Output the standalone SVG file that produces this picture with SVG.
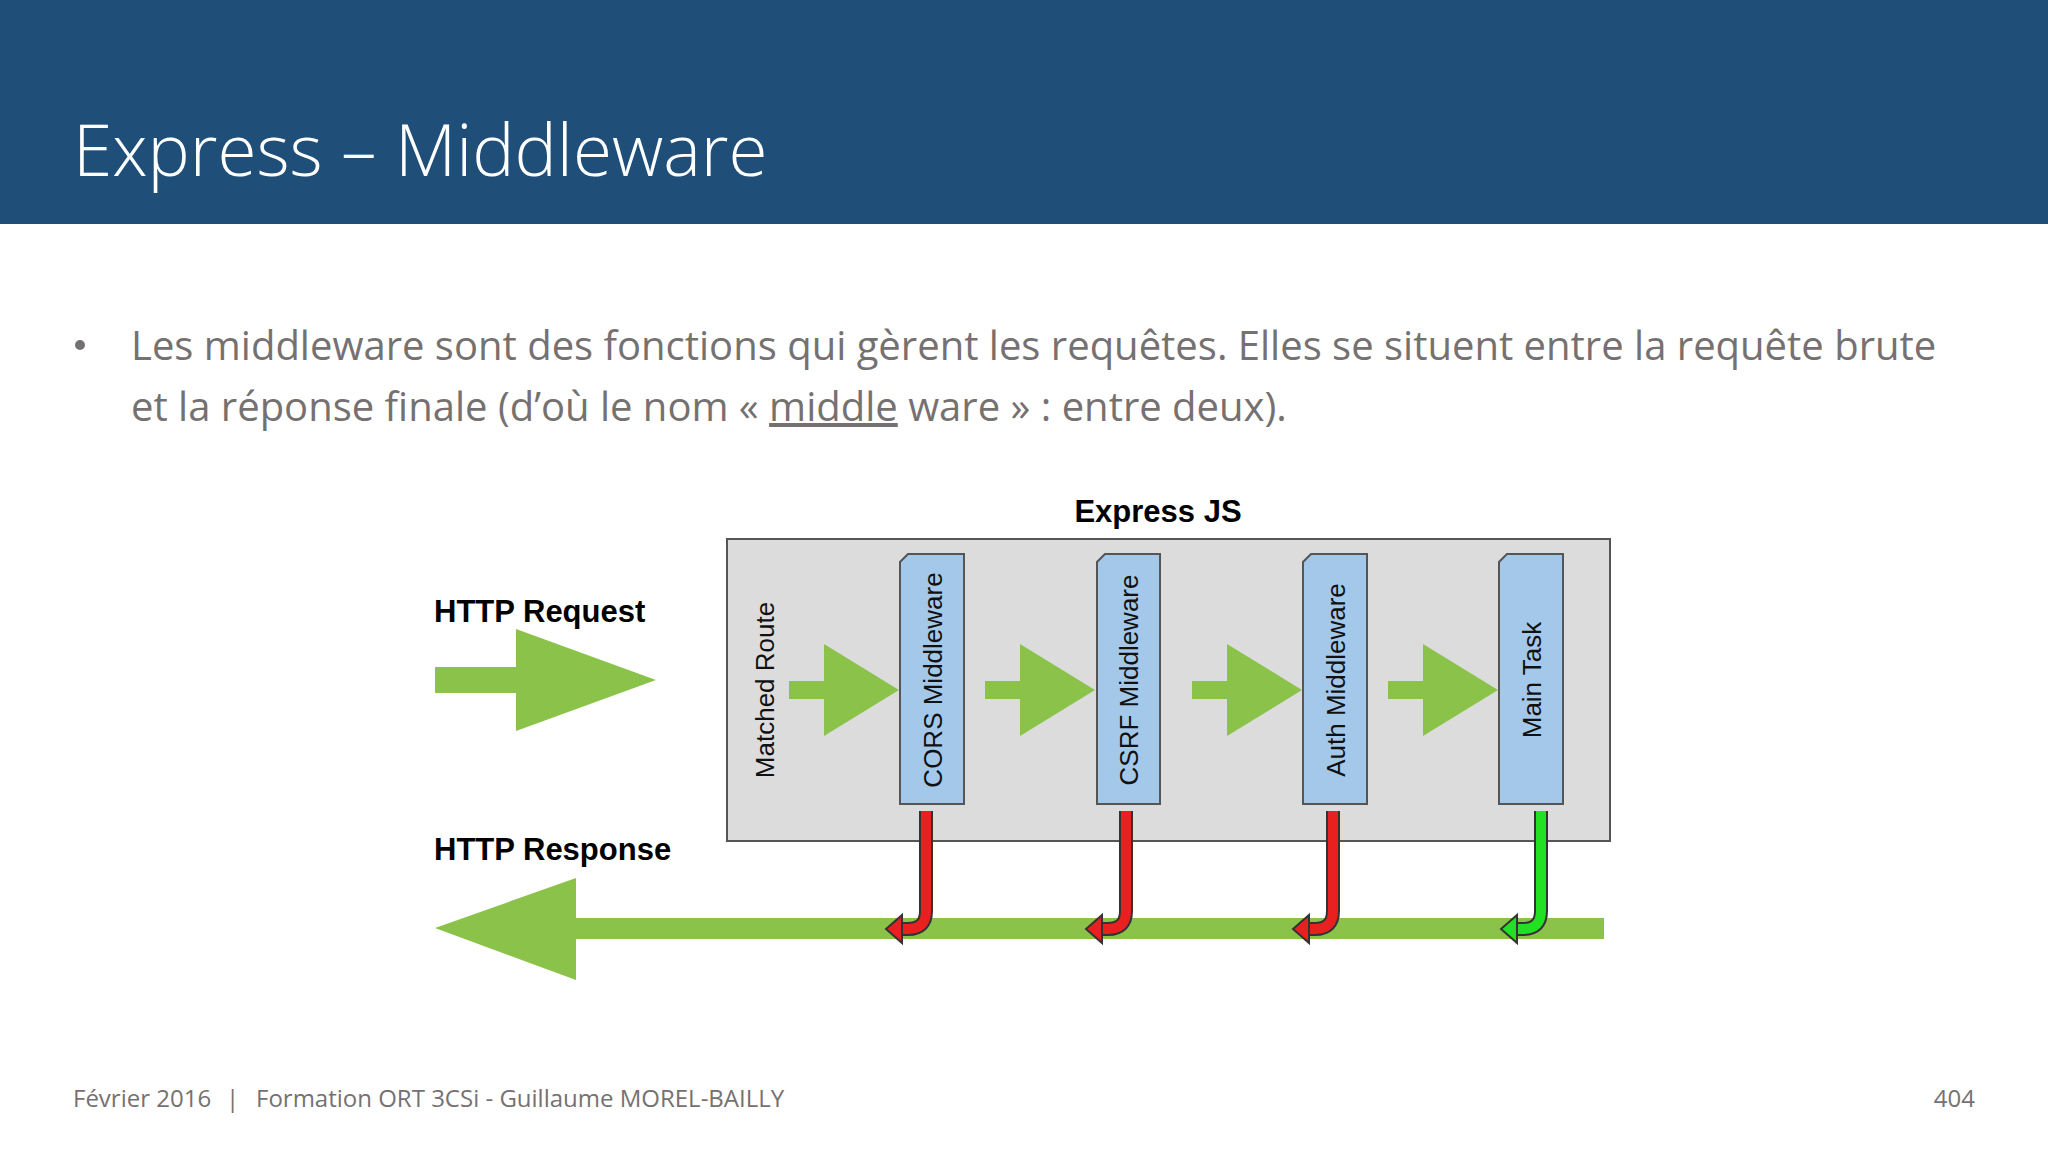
<svg xmlns="http://www.w3.org/2000/svg" width="2048" height="1152" viewBox="0 0 2048 1152">
<style>
.t{font-family:"Open Sans","Noto Sans",sans-serif}
.d{font-family:"Liberation Sans",Arial,sans-serif}
.blk{fill:#a4c8ea;stroke:#555;stroke-width:2}
.g{fill:#8bc34a}
.lbl{font-size:26px;fill:#111}
.ho{fill:none;stroke-linecap:butt;stroke-linejoin:round}
</style>
<defs>
<g id="hook">
<path class="ho" d="M0,0 V100 Q0,118 -18,118 H-26" stroke="#333" stroke-width="14"/>
<path class="ho" d="M0,0 V100 Q0,118 -18,118 H-26" stroke="currentColor" stroke-width="10"/>
<polygon points="-24,104 -40,118 -24,132" fill="currentColor" stroke="#333" stroke-width="2"/>
</g>
<polygon id="sa" points="0,-9 35,-9 35,-46 110,0 35,46 35,9 0,9"/>
</defs>
<rect x="0" y="0" width="2048" height="224" fill="#1f4e79"/>
<text class="t" x="73" y="176" font-size="71" font-weight="300" fill="#fff">Express – Middleware</text>
<circle cx="80" cy="345" r="5" fill="#767171"/>
<text class="t" font-size="40" fill="#767171"><tspan x="131" y="360">Les middleware sont des fonctions qui gèrent les requêtes. Elles se situent entre la requête brute</tspan><tspan x="131" y="421">et la réponse finale (d’où le nom « <tspan text-decoration="underline">middle</tspan> ware » : entre deux).</tspan></text>
<text class="d" x="1158" y="522" font-size="31" font-weight="bold" text-anchor="middle">Express JS</text>
<rect x="727" y="539" width="883" height="302" fill="#dcdcdc" stroke="#555" stroke-width="2"/>
<g id="matched"><text class="d lbl" transform="translate(774,690) rotate(-90)" text-anchor="middle">Matched Route</text></g>
<g id="cors"><path class="blk" d="M908,554 H964 V804 H900 V562 Z"/><text class="d lbl" transform="translate(942,680) rotate(-90)" text-anchor="middle">CORS Middleware</text></g>
<g id="csrf"><path class="blk" d="M1105,554 H1160 V804 H1097 V562 Z"/><text class="d lbl" transform="translate(1138,680) rotate(-90)" text-anchor="middle">CSRF Middleware</text></g>
<g id="auth"><path class="blk" d="M1311,554 H1367 V804 H1303 V562 Z"/><text class="d lbl" transform="translate(1345,680) rotate(-90)" text-anchor="middle">Auth Middleware</text></g>
<g id="main"><path class="blk" d="M1507,554 H1563 V804 H1499 V562 Z"/><text class="d lbl" transform="translate(1541,680) rotate(-90)" text-anchor="middle">Main Task</text></g>
<g id="req"><text class="d" x="434" y="622" font-size="31" font-weight="bold">HTTP Request</text>
<polygon class="g" points="435,667 516,667 516,629 656,680 516,731 516,693 435,693"/></g>
<g id="resp"><text class="d" x="434" y="860" font-size="31" font-weight="bold">HTTP Response</text>
<polygon class="g" points="435,928 576,878 576,918 1604,918 1604,939 576,939 576,980"/></g>
<g id="connectors">
<use href="#sa" x="789" y="690" class="g"/>
<use href="#sa" x="985" y="690" class="g"/>
<use href="#sa" x="1192" y="690" class="g"/>
<use href="#sa" x="1388" y="690" class="g"/>
<use href="#hook" x="926" y="811" color="#e82020"/>
<use href="#hook" x="1126" y="811" color="#e82020"/>
<use href="#hook" x="1333" y="811" color="#e82020"/>
<use href="#hook" x="1541" y="811" color="#22e022"/>
</g>
<text class="t" x="73" y="1107" font-size="24" fill="#767171">Février 2016</text>
<text class="t" x="226" y="1107" font-size="24" fill="#767171">|</text>
<text class="t" x="256" y="1107" font-size="24" fill="#767171">Formation ORT 3CSi - Guillaume MOREL-BAILLY</text>
<text class="t" x="1975" y="1107" font-size="24" fill="#767171" text-anchor="end">404</text>
</svg>
